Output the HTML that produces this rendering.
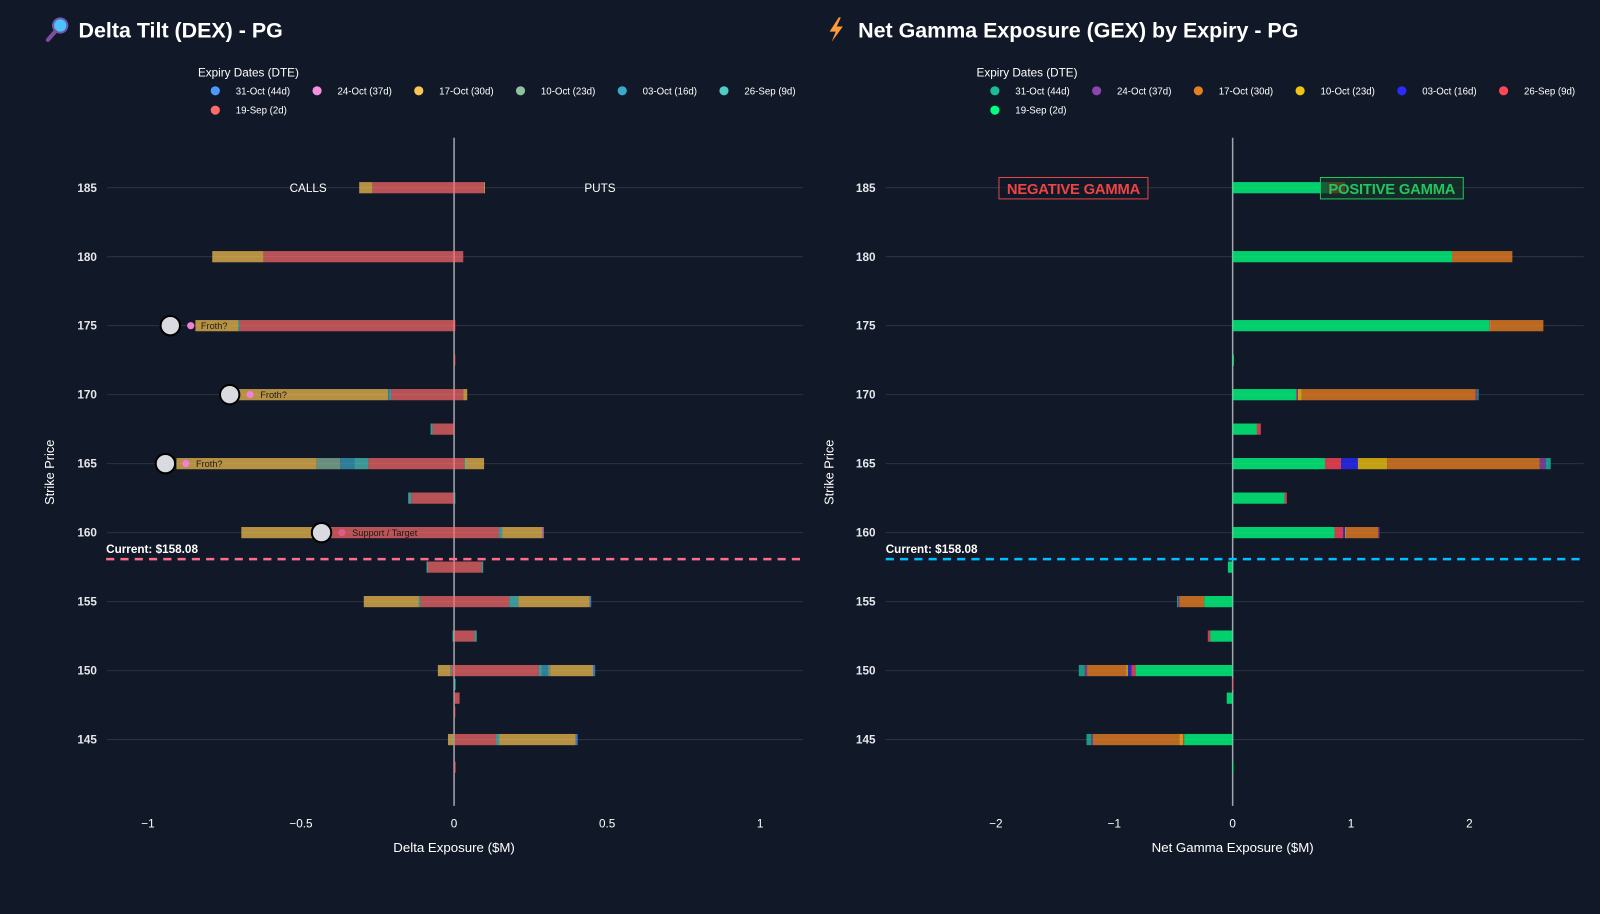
<!DOCTYPE html>
<html><head><meta charset="utf-8"><style>
html,body{margin:0;padding:0;background:#111827;}
svg{display:block;font-family:"Liberation Sans",sans-serif;}
</style></head><body>
<svg id="root" width="1600" height="914" viewBox="0 0 1568 896" preserveAspectRatio="none">
<rect x="0" y="0" width="1568" height="896" fill="#111827"/>
<g>
 <circle cx="59" cy="25" r="7" fill="#4fc3f7" stroke="#6b5bb0" stroke-width="2"/>
 <line x1="54" y1="31" x2="47" y2="39" stroke="#7b4fa0" stroke-width="4" stroke-linecap="round"/>
 <text x="77" y="37" fill="#ffffff" font-size="21" font-weight="bold">Delta Tilt (DEX) - PG</text>
</g>
<g>
 <path d="M822 17 L813 31 L819 31 L815 41 L826 26 L820 26 L824 17 Z" fill="#ff9a3c"/>
 <text x="841" y="37" fill="#ffffff" font-size="21" font-weight="bold">Net Gamma Exposure (GEX) by Expiry - PG</text>
</g>
<g id="dexLegend"><text x="194" y="75" fill="#ffffff" font-size="11.5">Expiry Dates (DTE)</text></g>
<g id="gexLegend"><text x="957" y="75" fill="#ffffff" font-size="11.5">Expiry Dates (DTE)</text></g>
<g id="dex"></g>
<g id="gex"></g>
<text x="302" y="188" fill="#ffffff" font-size="11.5" text-anchor="middle">CALLS</text>
<text x="588" y="188" fill="#ffffff" font-size="11.5" text-anchor="middle">PUTS</text>
<text x="445" y="835" fill="#ffffff" font-size="13" text-anchor="middle">Delta Exposure ($M)</text>
<text x="1208" y="835" fill="#ffffff" font-size="13" text-anchor="middle">Net Gamma Exposure ($M)</text>
<text x="0" y="0" transform="translate(53,463) rotate(-90)" fill="#ffffff" font-size="12.5" text-anchor="middle">Strike Price</text>
<text x="0" y="0" transform="translate(817,463) rotate(-90)" fill="#ffffff" font-size="12.5" text-anchor="middle">Strike Price</text>
</svg>
<script>
const strikes = [185,180,175,172.5,170,167.5,165,162.5,160,157.5,155,152.5,150,149,148,147,145,143];
const yTicks = [185,180,175,170,165,160,155,150,145];
const dexTicks = [-1,-0.5,0,0.5,1];
const dexTickLabels = ["\u22121","\u22120.5","0","0.5","1"];
const gexTicks = [-2,-1,0,1,2];
const gexTickLabels = ["\u22122","\u22121","0","1","2"];
const expiryLabels = ["31-Oct (44d)","24-Oct (37d)","17-Oct (30d)","10-Oct (23d)","03-Oct (16d)","26-Sep (9d)","19-Sep (2d)"];
const currentPrice = 158.08;

// DEX calls (negative) per expiry
const dexCalls19Sep = [-0.267,-0.623,-0.70,0,-0.206,-0.07,-0.28,-0.14,-0.42,-0.087,-0.11,0,-0.01,0,0,0,0,0];
const dexCalls26Sep = [0,0,-0.005,0,-0.006,-0.007,-0.046,-0.01,-0.005,-0.003,-0.005,-0.005,-0.003,0,0,0,-0.003,0];
const dexCalls03Oct = [0,0,0,0,-0.004,0,-0.046,0,0,0,0,0,0,0,0,0,0,0];
const dexCalls10Oct = [0,0,0,0,0,0,-0.078,0,0,0,0,0,0,0,0,0,0,0];
const dexCalls17Oct = [-0.043,-0.167,-0.14,0,-0.49,0,-0.457,0,-0.27,0,-0.18,0,-0.04,0,0,0,-0.017,0];
// DEX puts (positive)
const dexPuts19Sep = [0.097,0.03,0.002,0.003,0.03,0,0.033,0,0.147,0.09,0.18,0.067,0.277,0,0.018,0.003,0.137,0.005];
const dexPuts26Sep = [0,0,0,0,0,0,0.003,0.003,0.01,0.005,0.03,0.007,0.01,0.005,0,0,0.01,0];
const dexPuts03Oct = [0,0,0,0,0,0,0,0,0,0,0,0,0.02,0,0,0,0,0];
const dexPuts10Oct = [0,0,0,0,0,0,0,0,0,0,0,0,0.007,0,0,0,0,0];
const dexPuts17Oct = [0.003,0,0,0,0.013,0,0.062,0,0.131,0,0.233,0,0.14,0,0,0,0.25,0];
const dexPuts24Oct = [0,0,0,0,0,0,0,0,0.005,0,0,0,0,0,0,0,0,0];
const dexPuts31Oct = [0,0,0,0,0,0,0,0,0,0,0.005,0,0.007,0,0,0,0.007,0];

// GEX per expiry
const gex19Sep = [0.8,1.853,2.17,0.005,0.535,0.205,0.78,0.44,0.86,-0.04,-0.24,-0.19,-0.82,0,-0.05,0,-0.41,-0.005];
const gex26Sep = [0,0,0.005,0,0.01,0.033,0.136,0.018,0.075,0,0,-0.02,-0.035,-0.005,0,0,-0.01,0];
const gex03Oct = [0,0,0,0,0.005,0,0.142,0,0.015,0,0,0,-0.03,0,0,0,0,0];
const gex10Oct = [0,0,0,0,0.033,0,0.247,0,0.01,0,0,0,-0.015,0,0,0,-0.03,0];
const gex17Oct = [0.15,0.51,0.45,0,1.47,0,1.29,0,0.27,0,-0.21,0,-0.33,0,0,0,-0.73,0];
const gex24Oct = [0,0,0,0,0.015,0,0.05,0,0.01,0,-0.01,0,-0.02,0,0,0,-0.015,0];
const gex31Oct = [0,0,0,0,0.01,0,0.042,0,0,0,-0.01,0,-0.05,0,0,0,-0.04,0];

const annotStrikes = [175,170,165,160];
const annotValues = [-0.927,-0.733,-0.943,-0.433];
const annotLabels = ["Froth?","Froth?","Froth?","Support / Target"];

const NS="http://www.w3.org/2000/svg";
function mk(tag,attrs,parent){const e=document.createElementNS(NS,tag);for(const k in attrs)e.setAttribute(k,attrs[k]);parent.appendChild(e);return e;}
const yS = s => 184 + (185 - s) * 13.525;
const xD = v => 445 + v * 300;
const xG = v => 1208 + v * 116;
const dexColors = ["#4c9aff","#f78fe0","#fcc450","#8fc1a0","#3ba9c9","#4ecdc4","#ff6b6b"];
const gexColors = ["#1abc9c","#8e44ad","#e67e22","#f1c40f","#2b2bff","#ff4757","#00ff7f"];

function legend(gid,x0,colors){
  const g=document.getElementById(gid);
  expiryLabels.forEach((lab,i)=>{
    const row=i<6?0:1, col=i<6?i:0;
    const it=mk('g',{},g);
    
    
    mk('circle',{cx:x0+col*99.7,cy:89+row*19,r:4.5,fill:colors[i]},it);
    const t=mk('text',{x:x0+col*99.7+20,y:92.5+row*19,fill:'#ffffff','font-size':9.5},it);
    t.textContent=lab;
  });
}
legend('dexLegend',211,dexColors);
legend('gexLegend',975,gexColors);

function axes(g,x0,x1,xf,ticks,labels,zero){
  yTicks.forEach(s=>{
    const l=mk('line',{x1:x0,x2:x1,y1:yS(s),y2:yS(s),stroke:'#2b3342','stroke-width':1},g);
    
    
    const t=mk('text',{x:x0-10,y:yS(s)+4,fill:'#e5e7eb','font-size':11.5,'font-weight':'bold','text-anchor':'end'},g);
    
    
    t.textContent=s;
  });
  ticks.forEach((v,i)=>{
    const t=mk('text',{x:xf(v),y:811,fill:'#ffffff','font-size':11.5,'text-anchor':'middle'},g);
    
    
    t.textContent=labels[i];
  });
  const z=mk('line',{x1:xf(0),x2:xf(0),y1:135,y2:790,stroke:'#a0a4ab','stroke-width':1.5},g);
  
  
}

function stack(g,xf,series,colors,op){
  strikes.forEach((s,i)=>{
    let pos=0,neg=0;
    series.forEach((arr,k)=>{
      const v=arr[i]; if(!v) return;
      let a,b;
      if(v>0){a=pos;b=pos+v;pos=b;}else{a=neg;b=neg+v;neg=b;}
      const xa=xf(Math.min(a,b)), xb=xf(Math.max(a,b));
      const r=mk('rect',{x:xa,y:yS(s)-5.5,width:Math.max(xb-xa,1.2),height:11,fill:colors[k],'fill-opacity':op},g);
      
      
    });
  });
}

const dex=document.getElementById('dex');
axes(dex,105,787,xD,dexTicks,dexTickLabels);
stack(dex,xD,[dexCalls19Sep,dexCalls26Sep,dexCalls03Oct,dexCalls10Oct,dexCalls17Oct],[dexColors[6],dexColors[5],dexColors[4],dexColors[3],dexColors[2]],0.7);
stack(dex,xD,[dexPuts19Sep,dexPuts26Sep,dexPuts03Oct,dexPuts10Oct,dexPuts17Oct,dexPuts24Oct,dexPuts31Oct],[dexColors[6],dexColors[5],dexColors[4],dexColors[3],dexColors[2],dexColors[1],dexColors[0]],0.7);

annotStrikes.forEach((s,i)=>{
  const g=mk('g',{},dex);
  
  
  const cx=xD(annotValues[i]);
  mk('circle',{cx:cx,cy:yS(s),r:9.5,fill:'#d9dbe0',stroke:'#000000','stroke-width':2},g);
  mk('circle',{cx:cx+20,cy:yS(s),r:3.5,fill:i<3?'#f47fd8':'#e05a8a'},g);
  const t=mk('text',{x:cx+30,y:yS(s)+3.5,fill:'#1a1a1a','font-size':9},g);
  t.textContent=annotLabels[i];
});

const gex=document.getElementById('gex');
axes(gex,868,1552,xG,gexTicks,gexTickLabels);
stack(gex,xG,[gex19Sep,gex26Sep,gex03Oct,gex10Oct,gex17Oct,gex24Oct,gex31Oct],[gexColors[6],gexColors[5],gexColors[4],gexColors[3],gexColors[2],gexColors[1],gexColors[0]],0.8);

function cur(g,x0,x1,color){
  const y=yS(currentPrice);
  const l=mk('line',{x1:x0,x2:x1,y1:y,y2:y,stroke:color,'stroke-width':2.5,'stroke-dasharray':'8,6'},g);
  
  
  const t=mk('text',{x:x0,y:y-6,fill:'#ffffff','font-size':11.5,'font-weight':'bold'},g);
  
  
  t.textContent='Current: $'+currentPrice.toFixed(2);
}
cur(dex,104,784,'#ff6b8b');
cur(gex,868,1552,'#00bfff');

const nb=mk('g',{},gex);


mk('rect',{x:979,y:174,width:146,height:21,fill:'#111827','fill-opacity':0.6,stroke:'#e04848','stroke-width':1},nb);
const nt=mk('text',{x:1052,y:190,fill:'#ef4444','font-size':14.5,'font-weight':'bold','text-anchor':'middle','letter-spacing':'-0.2'},nb);
nt.textContent='NEGATIVE GAMMA';
const pb=mk('g',{},gex);


mk('rect',{x:1294,y:174,width:140,height:21,fill:'#17332a','fill-opacity':0.7,stroke:'#22c55e','stroke-width':1},pb);
const pt=mk('text',{x:1364,y:190,fill:'#22c55e','font-size':14.5,'font-weight':'bold','text-anchor':'middle','letter-spacing':'-0.2'},pb);
pt.textContent='POSITIVE GAMMA';
</script>
</body></html>
